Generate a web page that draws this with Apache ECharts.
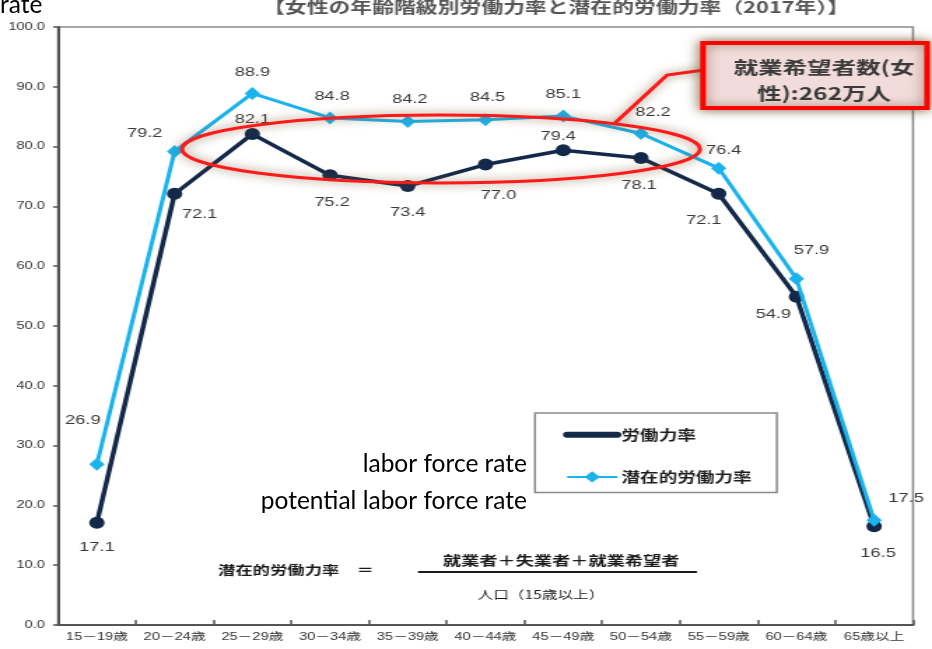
<!DOCTYPE html>
<html>
<head>
<meta charset="utf-8">
<script src="https://cdn.jsdelivr.net/npm/echarts@6/dist/echarts.min.js"></script>
<style>
  html, body { margin: 0; padding: 0; background: #fff; overflow: hidden; }
  #stage { position: relative; width: 932px; height: 649px; overflow: hidden; }
  /* the figure is laid out narrow and widened horizontally, like the printed original */
  #chart { position: absolute; left: 0; top: 0; width: 666px; height: 649px;
           transform: scaleX(1.3994); transform-origin: 0 0; }
  #notes { position: absolute; left: 0; top: 0; width: 932px; height: 649px; pointer-events: none; }
</style>
</head>
<body>
<div id="stage">
  <div id="chart"></div>
  <div id="notes"></div>
</div>
<script>
// Age groups (x axis)
const ageGroups = ['15－19歳', '20－24歳', '25－29歳', '30－34歳', '35－39歳', '40－44歳',
                   '45－49歳', '50－54歳', '55－59歳', '60－64歳', '65歳以上'];

// Labour force participation rate of women, 2017 (%)
const laborRate = [17.1, 72.1, 82.1, 75.2, 73.4, 77.0, 79.4, 78.1, 72.1, 54.9, 16.5];

// Potential labour force rate of women, 2017 (%)
const potentialRate = [26.9, 79.2, 88.9, 84.8, 84.2, 84.5, 85.1, 82.2, 76.4, 57.9, 17.5];

// Y axis range
const yTicks = { min: 0, max: 100, interval: 10 };

// Where each value label sits relative to its marker (screen px)
const laborLabelOffsets = [[0, 25], [25, 21], [0, -15], [2, 27], [0, 26], [13, 31],
                           [-5, -14], [-2, 27], [-15, 27], [-23, 18], [4, 27]];
const potentialLabelOffsets = [[-14, -44], [-30, -18], [0, -21], [2, -21], [2, -22], [2, -22],
                               [0, -22], [12, -21], [5, -18], [15, -28], [32, -22]];

const STRETCH = 932 / 666;           // horizontal widening of the figure
const sx = v => v / STRETCH;          // screen x -> layout x

const CJK = '"Noto Sans CJK JP", sans-serif';
const NUM = '"Liberation Sans", "Noto Sans CJK JP", sans-serif';
const NAVY = '#14294a';
const SKY = '#1ab3ec';
const RED = '#ff1a1a';
const GLOW = 'rgba(115,85,45,0.8)';

function withLabels(values, offsets) {
  return values.map((v, i) => ({
    value: v,
    label: { offset: [sx(offsets[i][0]), offsets[i][1]] }
  }));
}

const valueLabel = {
  show: true,
  position: 'inside',
  formatter: p => p.value.toFixed(1),
  color: '#3a3a3a',
  fontFamily: NUM,
  fontSize: 13
};

const chart = echarts.init(document.getElementById('chart'));

chart.setOption({
  animation: false,
  backgroundColor: '#ffffff',
  title: {
    text: '【女性の年齢階級別労働力率と潜在的労働力率（2017年）】',
    left: sx(263),
    top: -1,
    padding: 0,
    textStyle: { fontFamily: CJK, fontSize: 15.6, fontWeight: 'bold', color: '#555' }
  },
  grid: {
    left: sx(58), right: sx(19), top: 27, bottom: 24,
    show: true, borderColor: '#8a8a8a', borderWidth: 1.5
  },
  legend: {
    orient: 'vertical',
    left: sx(535), top: 413,
    padding: [15, 18, 9, 20],
    itemWidth: sx(50), itemHeight: 14, itemGap: 29,
    borderColor: '#8a8a8a', borderWidth: 1.5,
    backgroundColor: '#ffffff',
    textStyle: { fontFamily: CJK, fontSize: 13.3, fontWeight: 'bold', color: '#1e1e1e', padding: [0, 0, 0, -2] },
    data: [
      { name: '労働力率', itemStyle: { opacity: 0 }, lineStyle: { width: 6, cap: 'round' } },
      { name: '潜在的労働力率' }
    ]
  },
  xAxis: {
    type: 'category',
    data: ageGroups,
    boundaryGap: true,
    axisLine: { lineStyle: { color: '#555', width: 2 } },
    axisTick: { show: true, inside: true, length: 5, lineStyle: { color: '#555', width: 1.5 } },
    axisLabel: { color: '#333', fontFamily: NUM, fontSize: 10.5, margin: 7, interval: 0 },
    splitLine: { show: false }
  },
  yAxis: {
    type: 'value',
    min: yTicks.min, max: yTicks.max, interval: yTicks.interval,
    axisLine: { show: true, lineStyle: { color: '#555', width: 2 } },
    axisTick: { show: true, length: sx(5), lineStyle: { color: '#555', width: 1.5 } },
    axisLabel: {
      color: '#333', fontFamily: NUM, fontSize: 10.5, margin: sx(13),
      formatter: v => v.toFixed(1)
    },
    splitLine: { show: false }
  },
  series: [
    {
      name: '労働力率',
      type: 'line',
      data: withLabels(laborRate, laborLabelOffsets),
      symbol: 'circle',
      symbolSize: [11, 12],
      lineStyle: { color: NAVY, width: 3.5 },
      itemStyle: { color: NAVY },
      label: valueLabel,
      z: 2
    },
    {
      name: '潜在的労働力率',
      type: 'line',
      data: withLabels(potentialRate, potentialLabelOffsets),
      symbol: 'diamond',
      symbolSize: [11, 13],
      lineStyle: { color: SKY, width: 3 },
      itemStyle: { color: SKY },
      label: valueLabel,
      z: 3
    }
  ],
  graphic: [
    // highlight ring around the 20s–50s plateau
    {
      type: 'ellipse',
      shape: { cx: sx(441), cy: 149, rx: sx(259), ry: 34 },
      style: { fill: null, stroke: RED, lineWidth: 3, shadowBlur: 10, shadowColor: GLOW },
      z: 10
    },
    // connector to the callout
    {
      type: 'polyline',
      shape: { points: [[sx(704), 70], [sx(667), 75], [sx(615), 123]] },
      style: { fill: null, stroke: RED, lineWidth: 3, shadowBlur: 8, shadowColor: GLOW },
      z: 10
    },
    // callout box
    {
      type: 'rect',
      shape: { x: sx(703), y: 43, width: sx(224), height: 65 },
      style: { fill: '#f2dcdb', stroke: '#ff0000', lineWidth: 4, shadowBlur: 10, shadowColor: GLOW },
      z: 11
    },
    {
      type: 'text',
      x: sx(824), y: 67,
      style: {
        text: '就業希望者数(女', fontFamily: CJK, fontSize: 17.5, fontWeight: 'bold', fill: '#3a3a3a',
        align: 'center', verticalAlign: 'middle'
      },
      z: 12
    },
    {
      type: 'text',
      x: sx(824), y: 93,
      style: {
        text: '性):262万人', fontFamily: CJK, fontSize: 17.5, fontWeight: 'bold', fill: '#3a3a3a',
        align: 'center', verticalAlign: 'middle'
      },
      z: 12
    },
    // formula for the potential labour force rate
    {
      type: 'text',
      x: sx(218), y: 570,
      style: { text: '潜在的労働力率', fontFamily: CJK, fontSize: 12.4, fontWeight: 'bold', fill: '#1a1a1a',
               align: 'left', verticalAlign: 'middle' }
    },
    {
      type: 'text',
      x: sx(365), y: 570,
      style: { text: '＝', fontFamily: CJK, fontSize: 12.4, fontWeight: 'bold', fill: '#1a1a1a',
               align: 'center', verticalAlign: 'middle' }
    },
    {
      type: 'text',
      x: sx(561), y: 560,
      style: { text: '就業者＋失業者＋就業希望者', fontFamily: CJK, fontSize: 13, fontWeight: 'bold', fill: '#1a1a1a',
               align: 'center', verticalAlign: 'middle' }
    },
    {
      type: 'line',
      shape: { x1: sx(418), y1: 572, x2: sx(697), y2: 572 },
      style: { stroke: '#1a1a1a', lineWidth: 2 }
    },
    {
      type: 'text',
      x: sx(541), y: 595,
      style: { text: '人口（15歳以上）', fontFamily: CJK, fontSize: 11.2, fill: '#1a1a1a',
               align: 'center', verticalAlign: 'middle' }
    }
  ]
});

// English notes written over the figure
const notes = echarts.init(document.getElementById('notes'));
const EN = 'Lato, "Open Sans", sans-serif';
notes.setOption({
  animation: false,
  graphic: [
    { type: 'text', x: 0, y: 5,
      style: { text: 'rate', fontFamily: EN, fontSize: 24.5, fill: '#000', align: 'left', verticalAlign: 'middle' } },
    { type: 'text', x: 527, y: 464,
      style: { text: 'labor force rate', fontFamily: EN, fontSize: 24.5, fill: '#000', align: 'right', verticalAlign: 'middle' } },
    { type: 'text', x: 527, y: 501,
      style: { text: 'potential labor force rate', fontFamily: EN, fontSize: 24.5, fill: '#000', align: 'right', verticalAlign: 'middle' } }
  ]
});
</script>
</body>
</html>
